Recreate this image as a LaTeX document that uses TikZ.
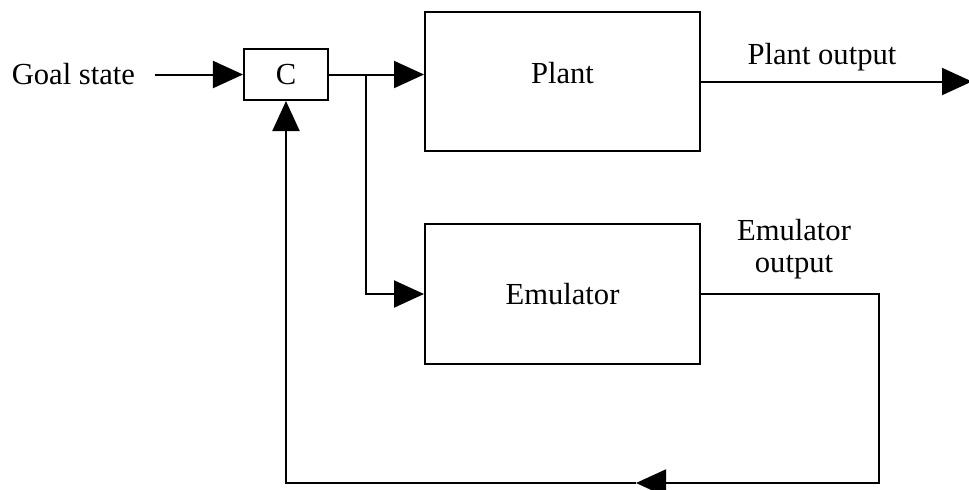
\documentclass[tikz,border=0pt]{standalone}
\usepackage{fontspec}
\setmainfont{Liberation Serif}
\usetikzlibrary{arrows.meta,positioning}

\begin{document}
\begin{tikzpicture}[>={Triangle[length=15pt,width=13.5pt]}, line width=1pt,
  font=\fontsize{15.3}{16}\selectfont]
\tikzset{block/.style={draw, inner sep=0pt}}
\useasboundingbox (-143pt,37.25pt) rectangle (341.5pt,-207.25pt);
\node[block, minimum width=42pt, minimum height=25.5pt] (C) {C};
\node[left=44pt of C, inner xsep=9.5pt] (goal) {Goal state};
\node[block, minimum width=137.5pt, minimum height=69.5pt, right=47.5pt of C, yshift=-3.5pt, label={[yshift=4.25pt]center:Plant}] (plant) {};
\node[block, minimum width=137.5pt, minimum height=70pt, below=35.5pt of plant] (emu) {Emulator};
\node[above right=12.25pt and 60.5pt of plant.east, anchor=center] (plantout) {Plant output};
\node[align=center, above right=22.5pt and 46.5pt of emu.east, anchor=center] (emuout) {Emulator\\output};

\coordinate[right=18.5pt of C.east] (split);
\coordinate[right=135.5pt of plant.east] (pend);
\coordinate[right=89pt of emu.east] (ecorner);
\coordinate[below=94.5pt of ecorner] (bcorner);
\coordinate[left=121.5pt of bcorner] (bmid);

\draw[->] (goal) -- (C);
\draw[->] (C) -- (C -| plant.west);
\draw[->] (split) |- (emu.west);
\draw[->] (plant.east) -- (pend);
\draw[->] (emu.east) -- (ecorner) -- (bcorner) -- (bmid);
\draw[->] (bmid) -- (bmid -| C) -- (C.south);
\end{tikzpicture}
\end{document}
